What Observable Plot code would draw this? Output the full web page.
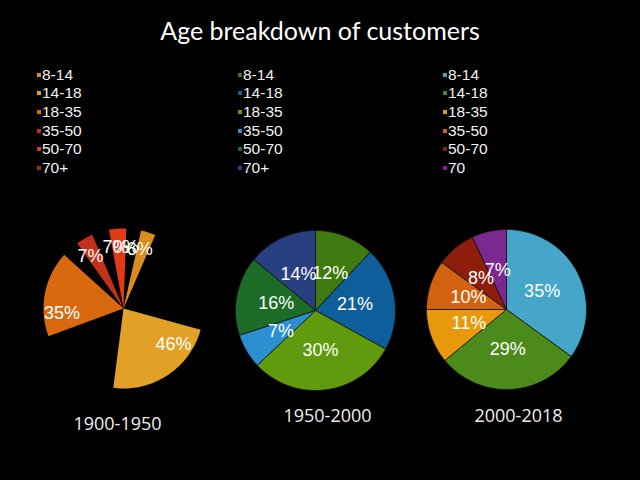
<!DOCTYPE html>
<html><head><meta charset="utf-8">
<script src="https://cdn.jsdelivr.net/npm/d3@7"></script>
<script src="https://cdn.jsdelivr.net/npm/@observablehq/plot@0.6"></script>
<style>
html,body{margin:0;padding:0;background:#000;}
#page{position:relative;width:640px;height:480px;background:#000;overflow:hidden;}
.title{position:absolute;left:0;width:640px;top:16px;text-align:center;color:#fff;font-family:Lato,sans-serif;font-size:25px;line-height:29px;}
.legend{position:absolute;font-family:"Liberation Sans",Arial,sans-serif;font-size:15.5px;color:#f2f2f2;}
.legend .row{position:relative;height:18.7px;line-height:18.7px;white-space:nowrap;}
.legend .sw{display:inline-block;width:4px;height:4px;margin-right:1px;vertical-align:middle;position:relative;top:-1px;}
.period{position:absolute;width:160px;text-align:center;color:#eee;font-family:"Open Sans",sans-serif;font-size:18px;line-height:24px;}
.pie{position:absolute;}
</style></head>
<body><div id="page"></div>
<script>
// ---- data ----
const chartTitle = "Age breakdown of customers";
const groups1900 = ["8-14","14-18","18-35","35-50","50-70","70+"];
const groups1950 = ["8-14","14-18","18-35","35-50","50-70","70+"];
const groups2000 = ["8-14","14-18","18-35","35-50","50-70","70"];
const share1900 = [6,46,35,7,7,0];
const share1950 = [12,21,30,7,16,14];
const share2000 = [35,29,11,10,8,7];
const periods = ["1900-1950","1950-2000","2000-2018"];

// ---- styles / layout ----
const colors1900 = ["#d98d1f","#e0a126","#d9690f","#c2301a","#e23a16","#9e2616"];
const colors1950 = ["#3f7a10","#0f5e9c","#5f9b0d","#2b8fd0","#1c6b27","#283f80"];
const colors2000 = ["#45a6c9","#4c8a1b","#e8990b","#d2620f","#8e1d0b","#7a2990"];
const pies = [
  {groups:groups1900, values:share1900, colors:colors1900, period:periods[0], cx:123, cy:308, legendX:37, periodY:411, exploded:true},
  {groups:groups1950, values:share1950, colors:colors1950, period:periods[1], cx:315, cy:310, legendX:238, periodY:403, exploded:false},
  {groups:groups2000, values:share2000, colors:colors2000, period:periods[2], cx:506, cy:309, legendX:443, periodY:403, exploded:false}
];
const periodCenters = [117.5, 327.5, 518.5];
const R = 80, half = 90;
const explodedTurn = 2 * Math.PI / 180; // small rotation of the animated first pie

const page = document.getElementById("page");
const t = document.createElement("div");
t.className = "title"; t.textContent = chartTitle; page.appendChild(t);

function buildSlices(groups, values, reveal, turn) {
  const total = d3.sum(values);
  let cum = 0;
  return groups.map((g, i) => {
    const a0p = cum / total * 2 * Math.PI + turn;
    cum += values[i];
    const a1 = cum / total * 2 * Math.PI + turn;
    const a0 = a1 - (a1 - a0p) * reveal;
    return {group: g, value: values[i], a0p, a0, a1};
  });
}
function outline(s) {
  const pts = [{group: s.group, x: 0, y: 0}];
  const n = Math.max(2, Math.ceil((s.a1 - s.a0) / (Math.PI / 120)));
  for (let k = 0; k <= n; k++) {
    const a = s.a0 + (s.a1 - s.a0) * k / n;
    pts.push({group: s.group, x: Math.sin(a), y: Math.cos(a)});
  }
  pts.push({group: s.group, x: 0, y: 0});
  return pts;
}

pies.forEach((p, idx) => {
  const sl = buildSlices(p.groups, p.values, p.exploded ? 0.5 : 1, p.exploded ? explodedTurn : 0);
  const pts = sl.flatMap(outline);
  const labels = sl.map(s => {
    let a, r;
    if (p.exploded) { a = ((s.a0p + s.a1) / 2 + (s.a0 + s.a1) / 2) / 2; r = 0.77; }
    else { a = (s.a0 + s.a1) / 2; r = 0.5; }
    return {x: r * Math.sin(a), y: r * Math.cos(a), label: s.value + "%"};
  });
  const dom = half / R;
  const svg = Plot.plot({
    width: 2 * half, height: 2 * half, margin: 0,
    x: {domain: [-dom, dom], axis: null},
    y: {domain: [-dom, dom], axis: null},
    color: {domain: p.groups, range: p.colors},
    style: {background: "transparent", overflow: "visible"},
    marks: [
      Plot.line(pts, {x: "x", y: "y", z: "group", fill: "group",
        stroke: p.exploded ? "none" : "#141414", strokeWidth: 0.8, curve: "linear"}),
      Plot.text(labels, {x: "x", y: "y", text: "label", fill: "white", fontSize: 18,
        fontFamily: "Liberation Sans, Arial, sans-serif"})
    ]
  });
  svg.classList.add("pie");
  svg.style.left = (p.cx - half) + "px";
  svg.style.top = (p.cy - half) + "px";
  page.appendChild(svg);

  const lg = document.createElement("div");
  lg.className = "legend";
  lg.style.left = p.legendX + "px";
  lg.style.top = "65.6px";
  p.groups.forEach((g, i) => {
    const row = document.createElement("div"); row.className = "row";
    const sw = document.createElement("span"); sw.className = "sw"; sw.style.background = p.colors[i];
    row.appendChild(sw); row.appendChild(document.createTextNode(g));
    lg.appendChild(row);
  });
  page.appendChild(lg);

  const pl = document.createElement("div");
  pl.className = "period"; pl.textContent = p.period;
  pl.style.left = (periodCenters[idx] - 80) + "px";
  pl.style.top = (p.periodY) + "px";
  page.appendChild(pl);
});
</script>
</body></html>
